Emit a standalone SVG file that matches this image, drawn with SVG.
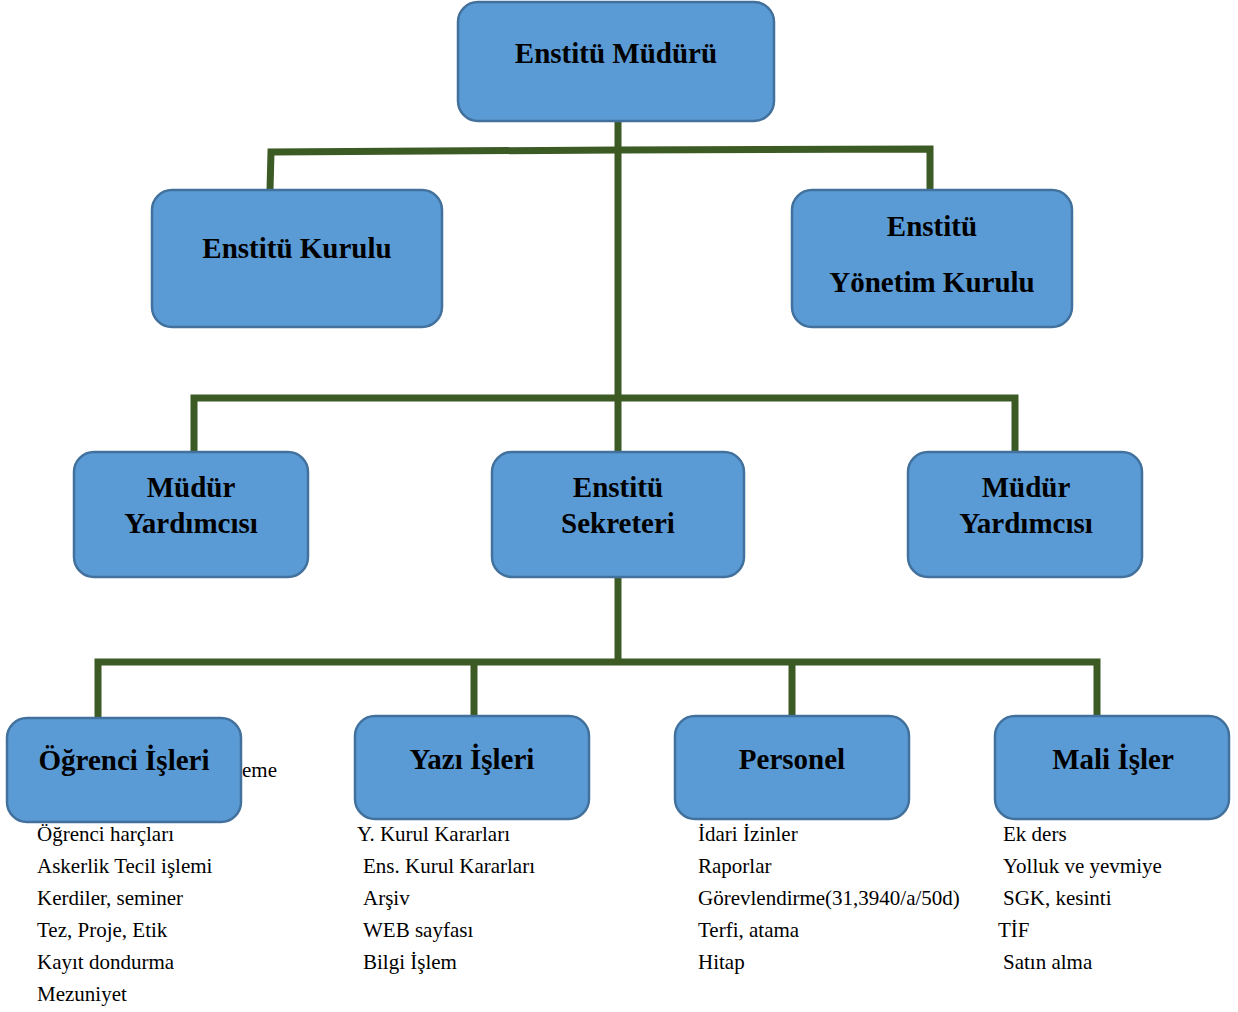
<svg xmlns="http://www.w3.org/2000/svg" width="1238" height="1012" viewBox="0 0 1238 1012">
<style>
.box{fill:#5B9BD5;stroke:#41719C;stroke-width:2.5}
.t{font-family:"Liberation Serif","Times New Roman",serif;font-weight:bold;font-size:29px;fill:#000;text-anchor:middle}
.l{font-family:"Liberation Serif","Times New Roman",serif;font-size:21px;fill:#000}
.c{fill:none;stroke:#3C5A24;stroke-width:7;stroke-linejoin:miter}
</style>
<rect width="1238" height="1012" fill="#fff"/>
<g id="connectors">
<path class="c" d="M618,121 V452"/>
<path class="c" d="M270,190 L271,152 L618,150 L930,149 V190"/>
<path class="c" d="M194,452 V398 H1015 V452"/>
<path class="c" d="M618,577 V662"/>
<path class="c" d="M98,718 V662 H1097 V716"/>
<path class="c" d="M474,662 V716"/>
<path class="c" d="M792,662 V716"/>
</g>
<g id="enstitu-muduru">
<rect class="box" x="458" y="2" width="316" height="119" rx="20"/>
<text class="t" x="616" y="63">Enstitü Müdürü</text>
</g>
<g id="enstitu-kurulu">
<rect class="box" x="152" y="190" width="290" height="137" rx="20"/>
<text class="t" x="297" y="258">Enstitü Kurulu</text>
</g>
<g id="enstitu-yonetim-kurulu">
<rect class="box" x="792" y="190" width="280" height="137" rx="20"/>
<text class="t" x="932" y="236">Enstitü</text>
<text class="t" x="932" y="292">Yönetim Kurulu</text>
</g>
<g id="mudur-yardimcisi-1">
<rect class="box" x="74" y="452" width="234" height="125" rx="20"/>
<text class="t" x="191" y="497">Müdür</text>
<text class="t" x="191" y="533">Yardımcısı</text>
</g>
<g id="enstitu-sekreteri">
<rect class="box" x="492" y="452" width="252" height="125" rx="20"/>
<text class="t" x="618" y="497">Enstitü</text>
<text class="t" x="618" y="533">Sekreteri</text>
</g>
<g id="mudur-yardimcisi-2">
<rect class="box" x="908" y="452" width="234" height="125" rx="20"/>
<text class="t" x="1026" y="497">Müdür</text>
<text class="t" x="1026" y="533">Yardımcısı</text>
</g>
<text class="l" x="242" y="777">eme</text>
<g id="ogrenci-isleri">
<rect class="box" x="7" y="718" width="234" height="104" rx="20"/>
<text class="t" x="124" y="770">Öğrenci İşleri</text>
</g>
<g id="yazi-isleri">
<rect class="box" x="355" y="716" width="234" height="103" rx="20"/>
<text class="t" x="472" y="769">Yazı İşleri</text>
</g>
<g id="personel">
<rect class="box" x="675" y="716" width="234" height="103" rx="20"/>
<text class="t" x="792" y="769">Personel</text>
</g>
<g id="mali-isler">
<rect class="box" x="995" y="716" width="234" height="103" rx="20"/>
<text class="t" x="1113" y="769">Mali İşler</text>
</g>
<g id="lists">
<text class="l" x="37" y="841">Öğrenci harçları</text>
<text class="l" x="37" y="873">Askerlik Tecil işlemi</text>
<text class="l" x="37" y="905">Kerdiler, seminer</text>
<text class="l" x="37" y="937">Tez, Proje, Etik</text>
<text class="l" x="37" y="969">Kayıt dondurma</text>
<text class="l" x="37" y="1001">Mezuniyet</text>
<text class="l" x="357" y="841">Y. Kurul Kararları</text>
<text class="l" x="363" y="873">Ens. Kurul Kararları</text>
<text class="l" x="363" y="905">Arşiv</text>
<text class="l" x="363" y="937">WEB sayfası</text>
<text class="l" x="363" y="969">Bilgi İşlem</text>
<text class="l" x="698" y="841">İdari İzinler</text>
<text class="l" x="698" y="873">Raporlar</text>
<text class="l" x="698" y="905">Görevlendirme(31,3940/a/50d)</text>
<text class="l" x="698" y="937">Terfi, atama</text>
<text class="l" x="698" y="969">Hitap</text>
<text class="l" x="1003" y="841">Ek ders</text>
<text class="l" x="1003" y="873">Yolluk ve yevmiye</text>
<text class="l" x="1003" y="905">SGK, kesinti</text>
<text class="l" x="998" y="937">TİF</text>
<text class="l" x="1003" y="969">Satın alma</text>
</g>
</svg>
